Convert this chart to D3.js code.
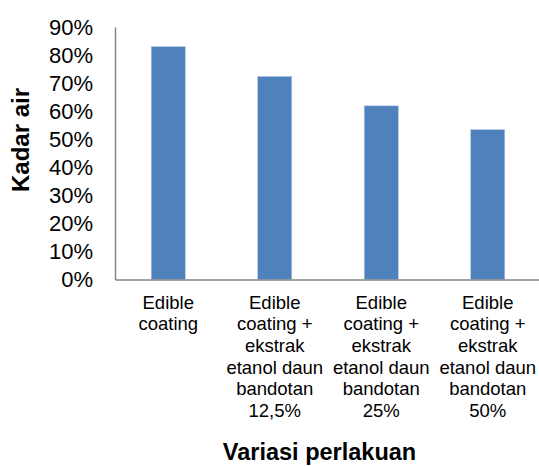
<!DOCTYPE html>
<html>
<head>
<meta charset="utf-8">
<script src="https://cdn.jsdelivr.net/npm/d3@7"></script>
<style>
  body { margin: 0; background: #fff; }
  text { font-family: Arial, "Liberation Sans", sans-serif; fill: #000; }
</style>
</head>
<body>
<svg id="chart"></svg>
<script>
// Data
const categories = [
    ["Edible", "coating"],
    ["Edible", "coating +", "ekstrak", "etanol daun", "bandotan", "12,5%"],
    ["Edible", "coating +", "ekstrak", "etanol daun", "bandotan", "25%"],
    ["Edible", "coating +", "ekstrak", "etanol daun", "bandotan", "50%"]
];
const kadarAir = [0.83, 0.724, 0.619, 0.534];
const yTicks = [0, 0.1, 0.2, 0.3, 0.4, 0.5, 0.6, 0.7, 0.8, 0.9];

const width = 539, height = 466;
const margin = { top: 27, right: -2, bottom: 186.5, left: 115 };

const svg = d3.select('#chart')
    .attr('width', width)
    .attr('height', height);

const innerW = width - margin.left - margin.right;
const innerH = height - margin.top - margin.bottom;

const chart = svg.append('g')
    .attr('transform', `translate(${margin.left},${margin.top})`);

const xScale = d3.scaleBand()
    .domain(d3.range(categories.length))
    .range([0, innerW])
    .paddingInner(0.68)
    .paddingOuter(0.34);

const yScale = d3.scaleLinear()
    .domain([0, 0.9])
    .range([innerH, 0]);

// Bars
chart.selectAll('rect.bar')
    .data(kadarAir)
    .join('rect')
        .attr('class', 'bar')
        .attr('x', (d, i) => xScale(i))
        .attr('y', d => yScale(d))
        .attr('width', xScale.bandwidth())
        .attr('height', d => innerH - yScale(d))
        .attr('fill', '#4f81bd')
        .attr('stroke', '#b3c8e4')
        .attr('stroke-width', 0.6);

// Y axis
const yAxis = d3.axisLeft(yScale)
    .tickValues(yTicks)
    .tickFormat(d3.format('.0%'))
    .tickSize(0)
    .tickPadding(22);

const yAxisG = chart.append('g').call(yAxis);
yAxisG.select('.domain').attr('stroke', '#868686').attr('stroke-width', 1.5);
yAxisG.selectAll('text').style('font-size', '22px').attr('fill', '#000');

// X axis
const xAxis = d3.axisBottom(xScale).tickSize(0).tickFormat('');
const xAxisG = chart.append('g')
    .attr('transform', `translate(0,${innerH})`)
    .call(xAxis);
xAxisG.select('.domain').attr('stroke', '#868686').attr('stroke-width', 1.5);

// multi-line category labels
xAxisG.selectAll('.tick').each(function(d) {
    const t = d3.select(this).select('text')
        .attr('y', 0)
        .attr('dy', null)
        .style('font-size', '18.5px')
        .attr('text-anchor', 'middle');
    t.selectAll('tspan')
        .data(categories[d])
        .join('tspan')
            .attr('x', 0)
            .attr('y', (s, j) => 29 + j * 21.7)
            .text(s => s);
});

// Axis titles
svg.append('text')
    .attr('x', 319.5)
    .attr('y', 460)
    .attr('text-anchor', 'middle')
    .style('font-size', '23.5px')
    .style('font-weight', 'bold')
    .text('Variasi perlakuan');

svg.append('text')
    .attr('transform', 'translate(29,140) rotate(-90)')
    .attr('text-anchor', 'middle')
    .style('font-size', '24px')
    .style('font-weight', 'bold')
    .text('Kadar air');
</script>
</body>
</html>
